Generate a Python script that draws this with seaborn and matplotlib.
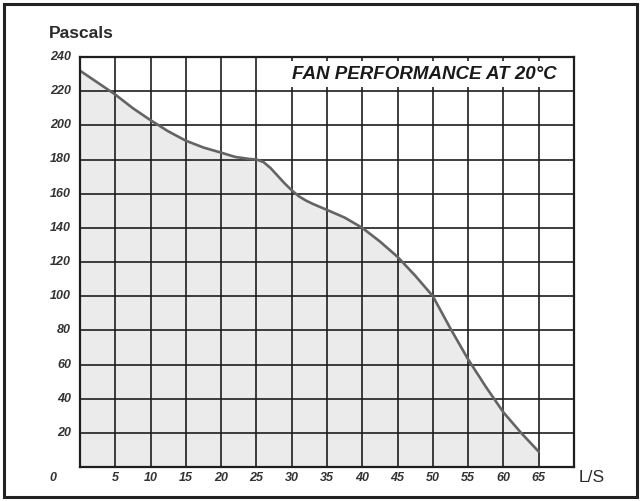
import matplotlib
matplotlib.use("Agg")
import matplotlib.pyplot as plt
import numpy as np
import pandas as pd
import seaborn as sns
from matplotlib.patches import Rectangle

# Fan curve (L/S vs Pascals)
flow = [0, 2.5, 5, 7.5, 10, 12.5, 15, 17.5, 20, 22, 24, 25, 26, 27, 28,
        29, 30, 31, 32, 33, 35, 37.5, 40, 42.5, 45, 47.5, 50, 52.5, 55,
        57.5, 60, 62.5, 65]
pressure = [232, 225, 218, 210, 203, 196.5, 191, 187, 184, 181.5, 180.3,
            180, 178.5, 175, 170.5, 166, 162, 158.5, 156, 154, 150.5, 146,
            140, 132, 123, 112, 100, 81, 63, 47, 32, 20, 9]

x_ticks = [5, 10, 15, 20, 25, 30, 35, 40, 45, 50, 55, 60, 65]
y_ticks = [20, 40, 60, 80, 100, 120, 140, 160, 180, 200, 220, 240]

title = "FAN PERFORMANCE AT 20\u00b0C"

df = pd.DataFrame({"flow": flow, "pressure": pressure})

sns.set_theme(style="white")
plt.rcParams["font.family"] = ["Liberation Sans", "DejaVu Sans"]

fig = plt.figure(figsize=(6.41, 5.01), dpi=100)
ax = fig.add_axes([80 / 641, 1 - 467 / 501, 494 / 641, 410 / 501])

grid_col = "#1e1e1e"

# shaded area under the curve
ax.fill_between(df["flow"], df["pressure"], 0, color="#ebebeb", zorder=1, linewidth=0)
sns.lineplot(data=df, x="flow", y="pressure", ax=ax, color="#646464",
             linewidth=1.9, zorder=4)

ax.set_xlim(0, 70)
ax.set_ylim(0, 240)
ax.grid(True, color=grid_col, linewidth=1.2, zorder=2)
ax.set_axisbelow(False)
for s in ax.spines.values():
    s.set_visible(True)
    s.set_color(grid_col)
    s.set_linewidth(1.6)
    s.set_zorder(5)

ax.set_xticks(np.arange(0, 71, 5), labels=[""] * 15)
ax.set_yticks(np.arange(0, 241, 20), labels=[""] * 13)
ax.tick_params(length=0)
ax.set_xlabel("")
ax.set_ylabel("")

tick_kw = dict(fontsize=9, fontweight="bold", fontstyle="italic", color="#333333")
for v in x_ticks:
    ax.annotate(str(v), xy=(v, 0), xytext=(0, -11), textcoords="offset pixels",
                ha="center", va="center", annotation_clip=False, **tick_kw)
for v in y_ticks:
    ax.annotate(str(v), xy=(0, v), xytext=(-9, 0), textcoords="offset pixels",
                ha="right", va="center", annotation_clip=False, **tick_kw)
ax.annotate("0", xy=(0, 0), xytext=(-27, -11), textcoords="offset pixels",
            ha="center", va="center", annotation_clip=False, **tick_kw)

ax.text(67.6, 230, title, ha="right", va="center", fontsize=13.5,
        fontweight="bold", fontstyle="italic", color="#1a1a1a", zorder=6,
        bbox=dict(facecolor="white", edgecolor="none", pad=3))

fig.text(49 / 641, 1 - 34 / 501, "Pascals", ha="left", va="center",
         fontsize=12.5, fontweight="bold", color="#2a2a2a")
fig.text(579 / 641, 1 - 477 / 501, "L/S", ha="left", va="center",
         fontsize=12.5, color="#2a2a2a")

# outer frame
fig.patches.append(Rectangle((4 / 641, 4 / 501), 633 / 641, 493 / 501,
                             transform=fig.transFigure, fill=False,
                             edgecolor="#222222", linewidth=2.2))

fig.savefig("out.png", dpi=100)
